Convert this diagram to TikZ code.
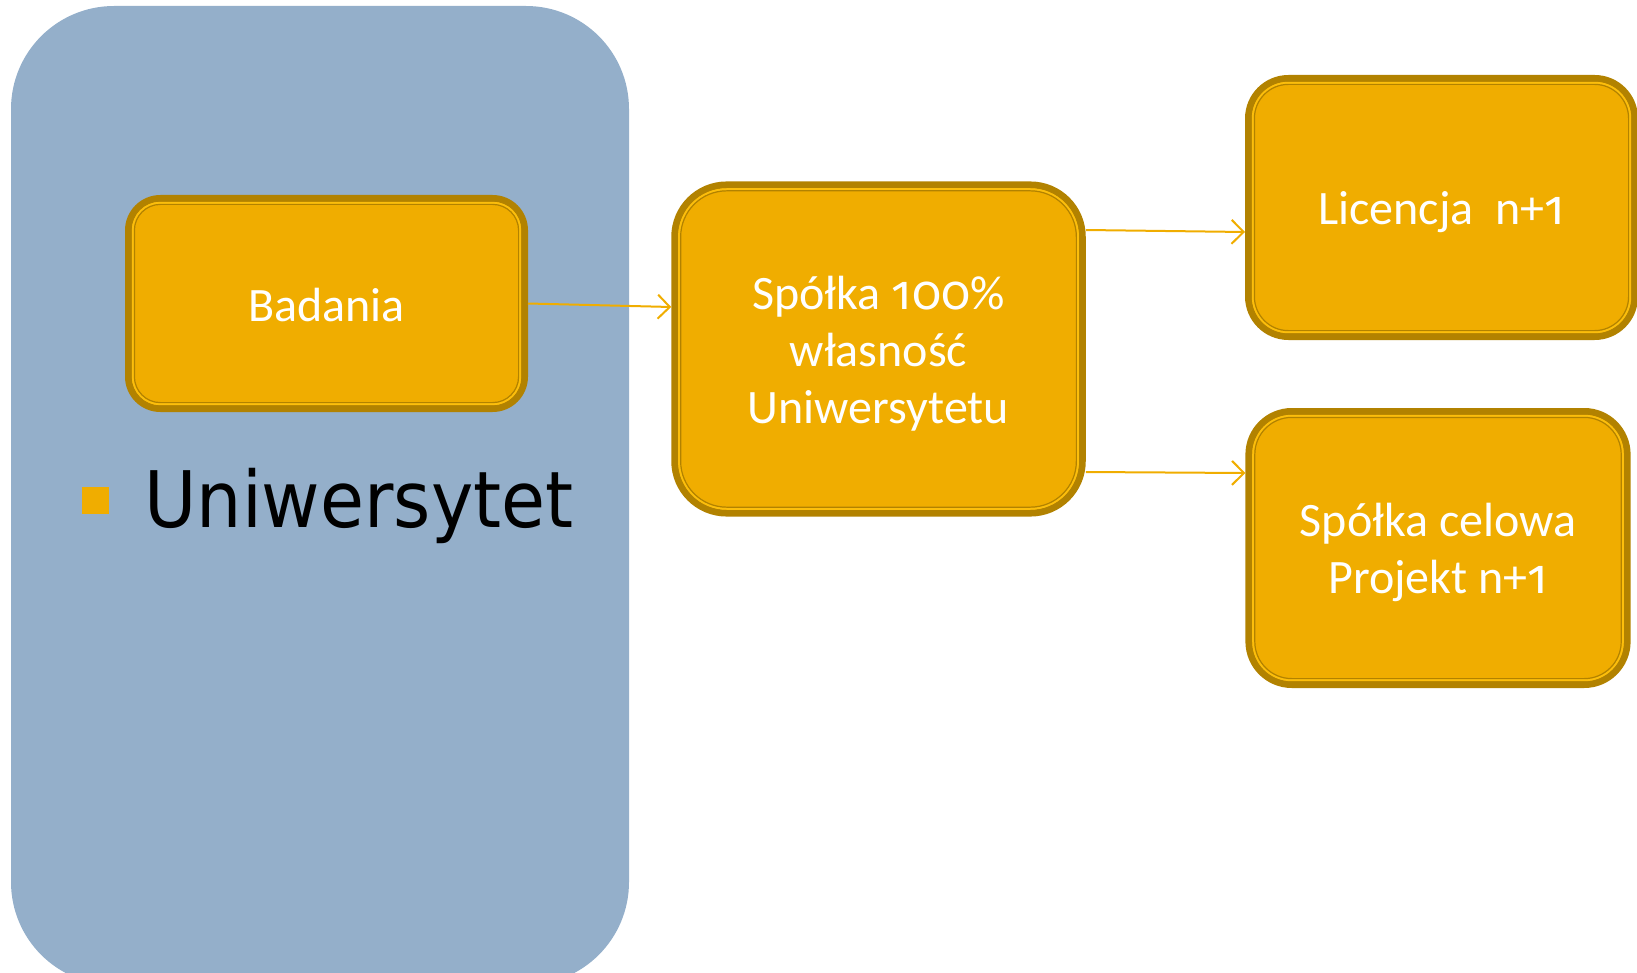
\documentclass[tikz,border=0pt]{standalone}
\usepackage{fontspec}
\setmainfont{Carlito}
\newfontfamily\numfont{Fira Sans}[Numbers=OldStyle]
\newfontfamily\unifont[FakeStretch=0.917]{DejaVu Sans}
\usetikzlibrary{arrows.meta}
\definecolor{bluebg}{RGB}{148,175,202}
\definecolor{gold}{RGB}{240,173,0}
\definecolor{goldlight}{RGB}{252,190,12}
\definecolor{golddark}{RGB}{178,130,0}
\newcommand\bstrut{\rule[-4pt]{0pt}{25.5pt}}
\newcommand\onum[1]{{\numfont #1}}
\begin{document}
\begin{tikzpicture}[x=0.5pt,y=-0.5pt,
  box/.style={draw=golddark, line width=3.4pt, fill=gold, text=white, align=center, inner sep=0pt, font=\fontsize{24}{28.5}\selectfont},
  lightline/.style={draw=goldlight, line width=1pt},
  innerline/.style={draw=golddark, line width=0.6pt},
  conn/.style={draw=gold, line width=1pt, -{Straight Barb[length=6pt,width=12pt,line width=1pt]}}]
\useasboundingbox (0,0) rectangle (1637,973);
\clip (0,0) rectangle (1637,973);
\fill[bluebg, rounded corners=51.5pt] (11,6) rectangle (629,985);
\node[box, rounded corners=16pt, minimum width=198.1pt, minimum height=105.1pt] (bad) at (326.5,303.5) {\bstrut Badania};
\node[box, rounded corners=26pt, minimum width=203.85pt, minimum height=164.15pt] (sp) at (878.5,349) {\bstrut Spółka \onum{100}\%\\\bstrut własność\\\bstrut Uniwersytetu};
\node[box, rounded corners=20pt, minimum width=193.1pt, minimum height=129.1pt] (lic) at (1441.5,207.5) {\bstrut Licencja\ \ n+\onum{1}};
\node[box, rounded corners=21.5pt, minimum width=189.2pt, minimum height=136.6pt] (cel) at (1438,548) {\bstrut Spółka celowa\\\bstrut Projekt n+\onum{1}};
\foreach \nn/\ra/\rb in {bad/13.8pt/13pt, sp/23.8pt/23pt, lic/17.8pt/17pt, cel/19.3pt/18.5pt}{
  \draw[lightline, rounded corners=\ra] ([shift={(3.9pt,3.9pt)}]\nn.south west) rectangle ([shift={(-3.9pt,-3.9pt)}]\nn.north east);
  \draw[innerline, rounded corners=\rb] ([shift={(4.7pt,4.7pt)}]\nn.south west) rectangle ([shift={(-4.7pt,-4.7pt)}]\nn.north east);
}
\draw[conn] (bad.east) -- ([yshift=21pt]sp.west);
\draw[conn] ([yshift=59.5pt]sp.east) -- ([yshift=-12.25pt]lic.west);
\draw[conn] ([yshift=-61.5pt]sp.east) -- ([yshift=37.5pt]cel.west);
\node[fill=gold, minimum size=13.5pt, inner sep=0pt] (bullet) at (95,500.5) {};
\node[anchor=base west, inner sep=0pt, font=\unifont\fontsize{39}{45}\selectfont] (uni) at (144,527) {Uniwersytet};
\end{tikzpicture}
\end{document}
